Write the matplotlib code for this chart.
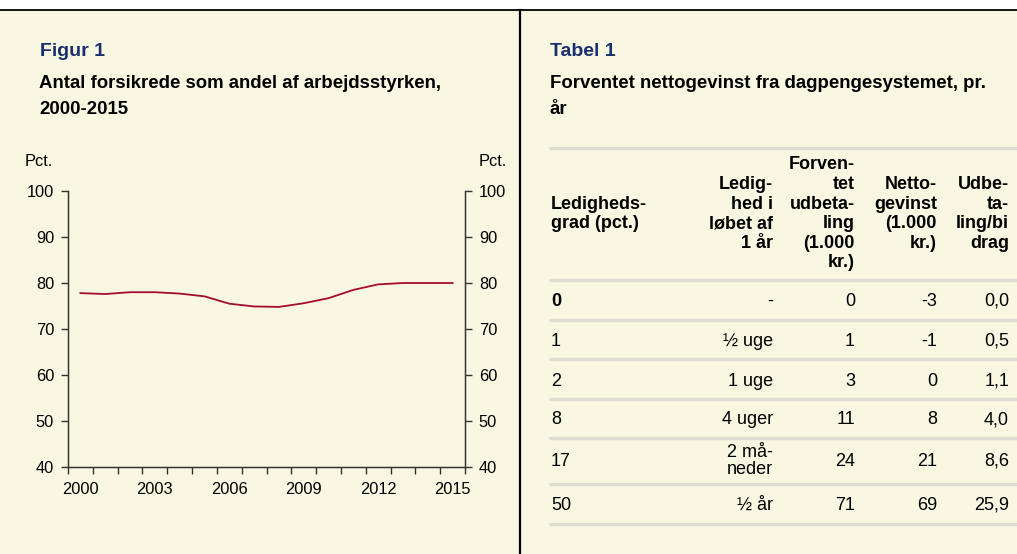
import matplotlib
matplotlib.use("Agg")
import matplotlib.pyplot as plt
import numpy as np
from matplotlib.lines import Line2D
from matplotlib.patches import Rectangle

plt.rcParams['font.family'] = ['Liberation Sans', 'DejaVu Sans']

# ---------------- data ----------------
years = list(range(2000, 2016))
share = [77.8, 77.6, 78.0, 78.0, 77.7, 77.1, 75.5, 74.9, 74.8, 75.6, 76.7, 78.5, 79.7, 80.0, 80.0, 80.0]
year_labels = ["2000", "2003", "2006", "2009", "2012", "2015"]
y_ticks = [40, 50, 60, 70, 80, 90, 100]

headers = ["Ledigheds-\ngrad (pct.)", "Ledig-\nhed i\nløbet af\n1 år", "Forven-\ntet\nudbeta-\nling\n(1.000\nkr.)",
           "Netto-\ngevinst\n(1.000\nkr.)", "Udbe-\nta-\nling/bi\ndrag"]
col_grad = ["0", "1", "2", "8", "17", "50"]
col_periode = ["-", "½ uge", "1 uge", "4 uger", "2 må-\nneder", "½ år"]
col_udbetaling = ["0", "1", "3", "11", "24", "71"]
col_netto = ["-3", "-1", "0", "8", "21", "69"]
col_ratio = ["0,0", "0,5", "1,1", "4,0", "8,6", "25,9"]

# ---------------- figure ----------------
W, H = 1017, 554
BG = '#F8F7E1'
fig = plt.figure(figsize=(W / 100, H / 100), dpi=100)
fig.patch.set_facecolor(BG)

def fx(px):
    return px / W

def fy(py):
    return 1 - py / H

# top white strip and frame lines
fig.patches.append(Rectangle((0, fy(9)), 1, 9 / H, transform=fig.transFigure,
                             facecolor='white', edgecolor='none', zorder=0))
fig.lines.append(Line2D([0, 1], [fy(9.5), fy(9.5)], transform=fig.transFigure, color='black', lw=1.3))
fig.lines.append(Line2D([fx(519.5), fx(519.5)], [fy(9.5), 0], transform=fig.transFigure, color='black', lw=1.6))

blue = '#1B2F6E'
tsz = 13.4
# left header
fig.text(fx(40), fy(51), "Figur 1", fontsize=14, fontweight='bold', color=blue, va='center', ha='left')
fig.text(fx(39), fy(83), "Antal forsikrede som andel af arbejdsstyrken,", fontsize=tsz, fontweight='bold',
         color='black', va='center', ha='left')
fig.text(fx(39), fy(109), "2000-2015", fontsize=tsz, fontweight='bold', color='black', va='center', ha='left')

# right header
fig.text(fx(550), fy(51), "Tabel 1", fontsize=14, fontweight='bold', color=blue, va='center', ha='left')
fig.text(fx(550), fy(83), "Forventet nettogevinst fra dagpengesystemet, pr.", fontsize=tsz, fontweight='bold',
         color='black', va='center', ha='left')
fig.text(fx(550), fy(109), "år", fontsize=tsz, fontweight='bold', color='black', va='center', ha='left')

# ---------------- chart ----------------
ax_l, ax_r, ax_t, ax_b = 68, 465, 191, 467
ax = fig.add_axes([fx(ax_l), fy(ax_b), fx(ax_r - ax_l), (ax_b - ax_t) / H])
ax.set_facecolor(BG)
x = np.arange(len(years))
ax.plot(x, share, color='#A50C30', lw=1.3)
ax.set_xlim(-0.5, len(years) - 0.5)
ax.set_ylim(40, 100)
ax.set_yticks(y_ticks)
ax.set_yticklabels([str(v) for v in y_ticks])
ax.set_xticks(np.arange(-0.5, len(years), 1.0))
ax.set_xticklabels([])
lab_pos = [years.index(int(s)) for s in year_labels]
ax.set_xticks(lab_pos, minor=True)
ax.set_xticklabels(year_labels, minor=True)
ax.tick_params(axis='x', which='major', length=5, width=1, color='#333333', direction='out')
ax.tick_params(axis='x', which='minor', length=0, labelsize=11.8, pad=11)
ax.tick_params(axis='y', length=5, width=1, color='#333333', labelsize=11.8, pad=5)
for s in ['top']:
    ax.spines[s].set_visible(False)
for s in ['left', 'right', 'bottom']:
    ax.spines[s].set_color('#333333')
    ax.spines[s].set_linewidth(1)

ax2 = ax.twinx()
ax2.set_ylim(40, 100)
ax2.set_yticks(y_ticks)
ax2.set_yticklabels([str(v) for v in y_ticks])
ax2.tick_params(axis='y', length=5, width=1, color='#333333', labelsize=11.8, pad=5)
ax2.spines['top'].set_visible(False)
for s in ['left', 'right', 'bottom']:
    ax2.spines[s].set_color('#333333')

fig.text(fx(53), fy(161), "Pct.", fontsize=11.8, ha='right', va='center')
fig.text(fx(479), fy(161), "Pct.", fontsize=11.8, ha='left', va='center')

# ---------------- table ----------------
line_color = '#DCDCD2'
line_ys = [148, 280, 320, 359, 399, 438, 484, 524]
for ly in line_ys:
    fig.lines.append(Line2D([fx(549), 1], [fy(ly), fy(ly)], transform=fig.transFigure,
                            color=line_color, lw=2.4, solid_capstyle='butt'))

tsize = 13
col_x = [551, 773, 855, 937, 1009]
col_ha = ['left', 'right', 'right', 'right', 'right']
head_center = 214
for j, h in enumerate(headers):
    fig.text(fx(col_x[j]), fy(head_center), h, fontsize=tsize, fontweight='bold', ha=col_ha[j],
             va='center', multialignment=col_ha[j], linespacing=1.2)

row_centers = [301, 341, 381, 420, 461, 505]
cols = [col_grad, col_periode, col_udbetaling, col_netto, col_ratio]
for i, rc in enumerate(row_centers):
    for j, col in enumerate(cols):
        fw = 'bold' if (i == 0 and j == 0) else 'normal'
        fig.text(fx(col_x[j]), fy(rc), col[i], fontsize=tsize, fontweight=fw, ha=col_ha[j],
                 va='center', multialignment=col_ha[j], linespacing=1.05)

fig.savefig("out.png", dpi=100, facecolor=BG)
